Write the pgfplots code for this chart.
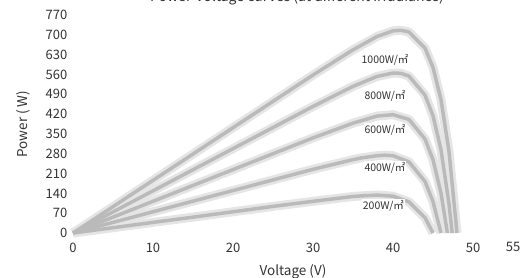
\documentclass[border=0pt]{standalone}
\usepackage{fontspec}
\setmainfont{Noto Sans CJK SC}
\usepackage{pgfplots}
\pgfplotsset{compat=1.18}
\begin{document}
\fontsize{13.5pt}{16pt}\selectfont
\begin{tikzpicture}[x=1pt,y=1pt]
\clip (-73,-44) rectangle (448,233);
\begin{axis}[
  at={(0,0)}, anchor=south west,
  scale only axis, width=440pt, height=218pt,
  xmin=0, xmax=55, ymin=0, ymax=770,
  xtick={0,10,20,30,40,50,55},
  ytick={0,70,140,210,280,350,420,490,560,630,700,770},
  axis line style={draw=none}, tick style={draw=none},
  /pgf/number format/assume math mode=true,
  ticklabel style={font=\fontsize{13pt}{15pt}\selectfont, text=black!80},
  xticklabel style={yshift=-5pt},
  yticklabel style={xshift=-1pt},
  xlabel={Voltage (V)}, ylabel={Power ( W)},
  label style={font=\fontsize{13.5pt}{16pt}\selectfont, text=black!80},
  xlabel style={yshift=-3pt},
  ylabel style={yshift=6pt},
  clip=false,
]
\addplot[black!10, line width=9pt, line join=round] coordinates {(0,0)(5,93)(10,186)(15,279)(20,372)(25,465)(30,558)(35,647)(38,694)(40,714)(41,716)(42,710)(44,653)(45,585)(46,471)(47,288)(48,0)};
\addplot[black!10, line width=9pt, line join=round] coordinates {(0,0)(5,74.5)(10,149)(15,223.5)(20,298)(25,372.5)(30,447)(35,518)(38,553)(40,565)(41,564)(42,554)(44,487)(45,414)(46,294)(47,103)(47.4,0)};
\addplot[black!10, line width=9pt, line join=round] coordinates {(0,0)(5,56)(10,112)(15,168)(20,224)(25,280)(30,336)(35,388)(38,413)(40,418)(42,401)(44,332)(45,259)(46,141)(46.8,0)};
\addplot[black!10, line width=9pt, line join=round] coordinates {(0,0)(5,37.5)(10,75)(15,112.5)(20,150)(25,187.5)(30,225)(35,259)(36,265)(38,273)(39,275)(40,273)(42,251)(44,182)(45,111)(46,0)};
\addplot[black!10, line width=9pt, line join=round] coordinates {(0,0)(5,18.75)(10,37.5)(15,56)(20,75)(25,94)(30,112)(35,129)(36,131)(38,134)(40,130)(42,110)(44,54)(45,0)};
\addplot[black!27, line width=3.5pt, line join=round] coordinates {(0,0)(5,93)(10,186)(15,279)(20,372)(25,465)(30,558)(35,647)(38,694)(40,714)(41,716)(42,710)(44,653)(45,585)(46,471)(47,288)(48,0)};
\addplot[black!27, line width=3.5pt, line join=round] coordinates {(0,0)(5,74.5)(10,149)(15,223.5)(20,298)(25,372.5)(30,447)(35,518)(38,553)(40,565)(41,564)(42,554)(44,487)(45,414)(46,294)(47,103)(47.4,0)};
\addplot[black!27, line width=3.5pt, line join=round] coordinates {(0,0)(5,56)(10,112)(15,168)(20,224)(25,280)(30,336)(35,388)(38,413)(40,418)(42,401)(44,332)(45,259)(46,141)(46.8,0)};
\addplot[black!27, line width=3.5pt, line join=round] coordinates {(0,0)(5,37.5)(10,75)(15,112.5)(20,150)(25,187.5)(30,225)(35,259)(36,265)(38,273)(39,275)(40,273)(42,251)(44,182)(45,111)(46,0)};
\addplot[black!27, line width=3.5pt, line join=round] coordinates {(0,0)(5,18.75)(10,37.5)(15,56)(20,75)(25,94)(30,112)(35,129)(36,131)(38,134)(40,130)(42,110)(44,54)(45,0)};
\begin{scope}[every node/.style={font=\fontsize{10.5pt}{12pt}\selectfont, text=black!80, fill=white, inner sep=1pt}]
\node at (axis cs:39,611) {1000W/㎡};
\node at (axis cs:39,484) {800W/㎡};
\node at (axis cs:39,364) {600W/㎡};
\node at (axis cs:39,230) {400W/㎡};
\node at (axis cs:38.8,97) {200W/㎡};
\end{scope}
\node[anchor=base, font=\fontsize{14pt}{16pt}\selectfont, text=black!80] at (axis cs:28,816) {Power-Voltage curves (at different irradiance)};
\end{axis}
\end{tikzpicture}
\end{document}
